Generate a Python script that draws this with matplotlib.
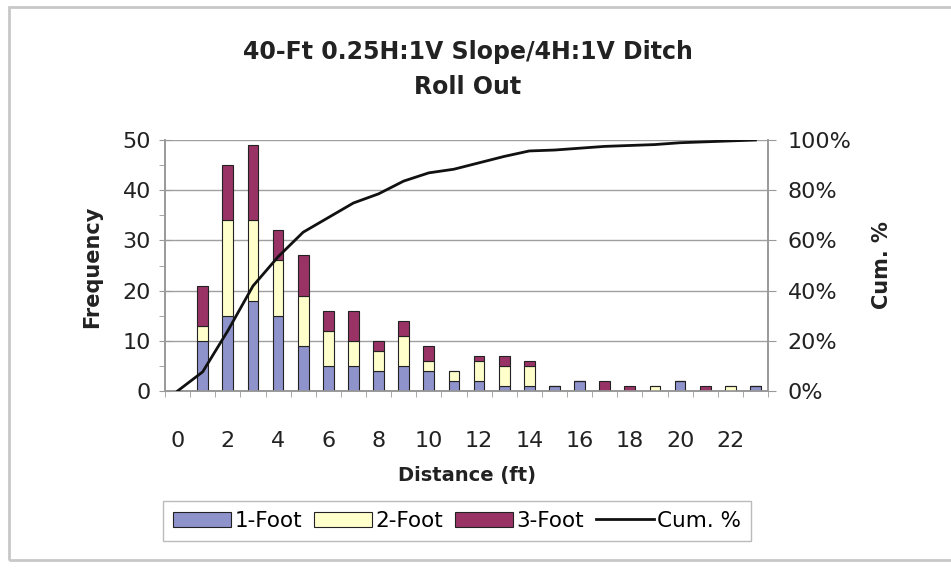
import numpy as np
import matplotlib
matplotlib.use("Agg")
import matplotlib.pyplot as plt
from matplotlib.patches import Rectangle
from matplotlib.ticker import MultipleLocator, FuncFormatter

plt.rcParams['font.family'] = ['DejaVu Sans']

distance = list(range(0, 24))
one_foot = [0, 10, 15, 18, 15, 9, 5, 5, 4, 5, 4, 2, 2, 1, 1, 1, 2, 0, 0, 0, 2, 0, 0, 1]
two_foot = [0, 3, 19, 16, 11, 10, 7, 5, 4, 6, 2, 2, 4, 4, 4, 0, 0, 0, 0, 1, 0, 0, 1, 0]
three_foot = [0, 8, 11, 15, 6, 8, 4, 6, 2, 3, 3, 0, 1, 2, 1, 0, 0, 2, 1, 0, 0, 1, 0, 0]
x_ticks = [0, 2, 4, 6, 8, 10, 12, 14, 16, 18, 20, 22]

one = np.array(one_foot)
two = np.array(two_foot)
three = np.array(three_foot)
total = one + two + three
cum_pct = np.cumsum(total) / total.sum()

fig = plt.figure(figsize=(9.51, 5.68), dpi=100)
# outer chart frame
fig.patches.append(Rectangle((9 / 951, 1 - 560 / 568), 1.2, (560 - 7) / 568,
                             transform=fig.transFigure, fill=False,
                             edgecolor='#c8c8c8', linewidth=2.0))

ax = fig.add_axes([165 / 951, 1 - 391 / 568, (768 - 165) / 951, (391 - 140) / 568])
ax2 = ax.twinx()
ax.set_zorder(ax2.get_zorder() - 1)
ax.patch.set_visible(True)
ax2.patch.set_visible(False)

w = 0.43
ec = '#222222'
lw = 0.8
b1 = ax.bar(distance, one, width=w, color='#8f93cc', edgecolor=ec, linewidth=lw, label='1-Foot', zorder=3)
b2 = ax.bar(distance, two, width=w, bottom=one, color='#ffffcc', edgecolor=ec, linewidth=lw, label='2-Foot', zorder=3)
b3 = ax.bar(distance, three, width=w, bottom=one + two, color='#993366', edgecolor=ec, linewidth=lw, label='3-Foot', zorder=3)

ax.set_xlim(-0.5, 23.5)
ax.set_ylim(0, 50)
ax.yaxis.set_major_locator(MultipleLocator(10))
ax.yaxis.set_minor_locator(MultipleLocator(5))
ax.grid(axis='y', which='major', color='#a0a0a0', linewidth=1.0, zorder=0)
ax.set_axisbelow(True)

ax.set_xticks(x_ticks)
ax.set_xticklabels([str(t) for t in x_ticks])
ax.set_xticks(np.arange(-0.5, 24, 1), minor=True)
ax.tick_params(axis='x', which='major', length=0, pad=36, labelsize=16, labelcolor='#222222')
ax.tick_params(axis='x', which='minor', length=4, color='#999999', direction='out')
ax.tick_params(axis='y', which='major', length=8, direction='inout', color='#999999', labelsize=16,
               labelcolor='#222222', pad=6)
ax.tick_params(axis='y', which='minor', length=4, direction='out', color='#999999')
for lbl in ax.get_xticklabels():
    lbl.set_verticalalignment('center')

for s in ['top']:
    ax.spines[s].set_visible(False)
    ax2.spines[s].set_visible(False)
for s in ['left', 'bottom', 'right']:
    ax.spines[s].set_color('#999999')
    ax.spines[s].set_linewidth(1.2)
    ax2.spines[s].set_color('#999999')
    ax2.spines[s].set_linewidth(1.2)

line, = ax2.plot(distance, cum_pct, color='#111111', linewidth=2.0, label='Cum. %', zorder=4)
ax2.set_ylim(0, 1)
ax2.yaxis.set_major_locator(MultipleLocator(0.2))
ax2.yaxis.set_major_formatter(FuncFormatter(lambda v, p: f"{int(round(v * 100))}%"))
ax2.tick_params(axis='y', length=6, direction='out', color='#999999', labelsize=16,
                labelcolor='#222222', pad=8)

fig.text(92 / 951, 1 - 267 / 568, 'Frequency', rotation=90, ha='center', va='center',
         fontsize=15, fontweight='bold', color='#222222')
fig.text(882 / 951, 1 - 265 / 568, 'Cum. %', rotation=90, ha='center', va='center',
         fontsize=15, fontweight='bold', color='#222222')
fig.text(467 / 951, 1 - 475 / 568, 'Distance (ft)', ha='center', va='center',
         fontsize=14, fontweight='bold', color='#222222')

fig.text(468 / 951, 1 - 52 / 568, '40-Ft 0.25H:1V Slope/4H:1V Ditch', ha='center', va='center',
         fontsize=17, fontweight='bold', color='#222222')
fig.text(468 / 951, 1 - 87 / 568, 'Roll Out', ha='center', va='center',
         fontsize=17, fontweight='bold', color='#222222')

leg = fig.legend(handles=[b1, b2, b3, line], labels=['1-Foot', '2-Foot', '3-Foot', 'Cum. %'],
                 loc='center', bbox_to_anchor=(457 / 951, 1 - 521 / 568), ncol=4,
                 fontsize=15.5, frameon=True, fancybox=False, edgecolor='#aaaaaa',
                 handlelength=2.7, handleheight=0.75, handletextpad=0.15,
                 columnspacing=0.55, borderpad=0.45, borderaxespad=0)
leg.get_frame().set_linewidth(1.0)

fig.savefig('out.png', dpi=100)
